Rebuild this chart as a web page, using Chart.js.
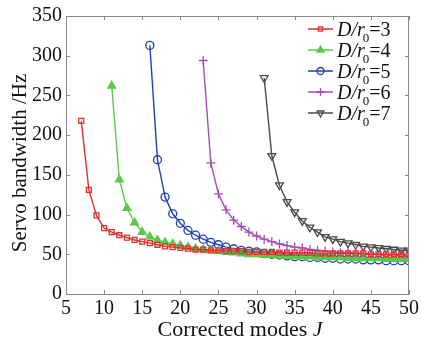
<!DOCTYPE html>
<html>
<head>
<meta charset="utf-8">
<script src="https://cdn.jsdelivr.net/npm/chart.js@4.4.0/dist/chart.umd.min.js"></script>
<style>
  html, body { margin: 0; padding: 0; background: #fff; }
</style>
</head>
<body>
<canvas id="c" width="422" height="342"></canvas>
<script>
// first corrected mode J of each curve, then servo bandwidth (Hz) for J = start..50
const startJ = [7, 11, 16, 23, 31];
const ratios = ['3', '4', '5', '6', '7'];

const bw3 = [218, 131, 99, 83, 78, 74, 71, 68, 66, 64, 62, 60, 59, 58, 57, 56, 56, 55, 55, 54, 54, 54,
  53, 53, 53, 53, 52, 52, 52, 52, 52, 51, 51, 51, 51, 51, 51, 51, 50, 50, 50, 50, 50, 50];
const bw4 = [262, 144, 108, 90, 78, 72, 68, 65, 63, 61, 59, 57, 56, 55, 54, 53, 52, 51, 50, 50,
  49, 49, 48, 48, 47, 47, 47, 46, 46, 46, 46, 45, 45, 45, 45, 45, 44, 44, 44, 44];
const bw5 = [313, 169, 122, 101, 89, 80, 74, 69, 65, 62, 59, 57, 55, 54, 53, 51, 50, 49, 48, 47,
  47, 46, 46, 45, 45, 44, 44, 44, 43, 43, 43, 42, 42, 42, 42];
const bw6 = [294, 165, 126, 106, 93, 85, 78, 73, 69, 66, 63, 61, 59, 58, 56, 55, 54, 53, 52, 52,
  51, 51, 50, 50, 49, 49, 48, 48];
const bw7 = [272, 174, 137, 116, 103, 92, 84, 78, 72, 69, 66, 64, 62, 60, 59, 58, 57, 56, 55, 55];

const xTicks = [5, 10, 15, 20, 25, 30, 35, 40, 45, 50];
const yTicks = [0, 50, 100, 150, 200, 250, 300, 350];

const series = [bw3, bw4, bw5, bw6, bw7];
const colors = ['#e0302f', '#5cc84a', '#1f3fb4', '#a44cb8', '#4a4a4a'];
const styles = [
  { pointStyle: 'rect', radius: 3.5, rotation: 0, fill: false },
  { pointStyle: 'triangle', radius: 4.5, rotation: 0, fill: true },
  { pointStyle: 'circle', radius: 4, rotation: 0, fill: false },
  { pointStyle: 'cross', radius: 4.5, rotation: 0, fill: false },
  { pointStyle: 'triangle', radius: 4.5, rotation: 180, fill: false }
];

const SERIF = '"Liberation Serif", "DejaVu Serif", serif';

const datasets = series.map((vals, i) => ({
  label: 'D/r0=' + ratios[i],
  data: vals.map((v, k) => ({ x: startJ[i] + k, y: v })),
  borderColor: colors[i],
  backgroundColor: styles[i].fill ? colors[i] : 'rgba(255,255,255,0)',
  borderWidth: 1.4,
  pointStyle: styles[i].pointStyle,
  pointRadius: styles[i].radius,
  pointRotation: styles[i].rotation,
  pointBorderWidth: 1.3,
  pointBorderColor: colors[i],
  pointBackgroundColor: styles[i].fill ? colors[i] : 'rgba(255,255,255,0)',
  tension: 0
}));

// box, inward ticks, axis titles and legend
const frame = {
  id: 'frame',
  afterDraw(chart) {
    const { ctx, chartArea: a, scales: { x, y } } = chart;
    ctx.save();
    ctx.strokeStyle = '#8a8a8a';
    ctx.lineWidth = 1;
    ctx.beginPath();
    ctx.moveTo(a.left, a.top + 0.5); ctx.lineTo(a.right, a.top + 0.5);
    ctx.moveTo(a.right - 0.5, a.top); ctx.lineTo(a.right - 0.5, a.bottom);
    xTicks.forEach(t => {
      const px = Math.round(x.getPixelForValue(t)) + 0.5;
      ctx.moveTo(px, a.bottom); ctx.lineTo(px, a.bottom - 4);
      ctx.moveTo(px, a.top); ctx.lineTo(px, a.top + 4);
    });
    yTicks.forEach(t => {
      const py = Math.round(y.getPixelForValue(t)) + 0.5;
      ctx.moveTo(a.left, py); ctx.lineTo(a.left + 4, py);
      ctx.moveTo(a.right, py); ctx.lineTo(a.right - 4, py);
    });
    ctx.stroke();

    ctx.fillStyle = '#111';
    ctx.textBaseline = 'alphabetic';

    // x axis title with italic J
    const t1 = 'Corrected modes ';
    ctx.font = 'italic 22px ' + SERIF;
    const wJ = ctx.measureText('J').width;
    ctx.font = '22px ' + SERIF;
    const w1 = ctx.measureText(t1).width;
    const sx = 240 - (w1 + wJ) / 2;
    ctx.fillText(t1, sx, 336);
    ctx.font = 'italic 22px ' + SERIF;
    ctx.fillText('J', sx + w1, 336);

    // y axis title
    ctx.save();
    ctx.translate(26, 163);
    ctx.rotate(-Math.PI / 2);
    ctx.font = '21px ' + SERIF;
    ctx.textAlign = 'center';
    ctx.fillText('Servo bandwidth /Hz', 0, 0);
    ctx.restore();

    // legend
    const lx0 = 308, lx1 = 333, tx = 337;
    datasets.forEach((ds, i) => {
      const ly = 29 + i * 21;
      ctx.strokeStyle = ds.borderColor;
      ctx.fillStyle = ds.pointBackgroundColor;
      ctx.lineWidth = 1.5;
      ctx.beginPath();
      ctx.moveTo(lx0, ly); ctx.lineTo(lx1, ly);
      ctx.stroke();
      ctx.lineWidth = 1.3;
      Chart.helpers.drawPoint(ctx, {
        pointStyle: ds.pointStyle, radius: ds.pointRadius - 0.5,
        rotation: ds.pointRotation, borderWidth: 1.3
      }, (lx0 + lx1) / 2, ly);

      ctx.fillStyle = '#111';
      ctx.font = 'italic 20px ' + SERIF;
      ctx.fillText('D/r', tx, ly + 7);
      let px = tx + ctx.measureText('D/r').width;
      ctx.font = '13px ' + SERIF;
      ctx.fillText('0', px - 2, ly + 13);
      px += ctx.measureText('0').width - 2;
      ctx.font = '20px ' + SERIF;
      ctx.fillText('=' + ratios[i], px, ly + 7);
    });
    ctx.restore();
  }
};

new Chart(document.getElementById('c'), {
  type: 'line',
  data: { datasets },
  options: {
    responsive: false,
    animation: false,
    layout: { padding: { top: 13, right: 13, left: 0, bottom: 0 } },
    plugins: { legend: { display: false }, tooltip: { enabled: false } },
    scales: {
      x: {
        type: 'linear',
        min: 5, max: 50,
        grid: { display: false, drawTicks: false },
        border: { display: true, color: '#8a8a8a', width: 1 },
        afterBuildTicks: s => { s.ticks = xTicks.map(v => ({ value: v })); },
        afterFit: s => { s.height = 48; },
        ticks: { color: '#111', padding: 3, maxRotation: 0, font: { family: SERIF, size: 20 } }
      },
      y: {
        min: 0, max: 350,
        grid: { display: false, drawTicks: false },
        border: { display: true, color: '#8a8a8a', width: 1 },
        afterBuildTicks: s => { s.ticks = yTicks.map(v => ({ value: v })); },
        afterFit: s => { s.width = 66; },
        ticks: { color: '#111', padding: 4, font: { family: SERIF, size: 20 } }
      }
    }
  },
  plugins: [frame]
});
</script>
</body>
</html>
